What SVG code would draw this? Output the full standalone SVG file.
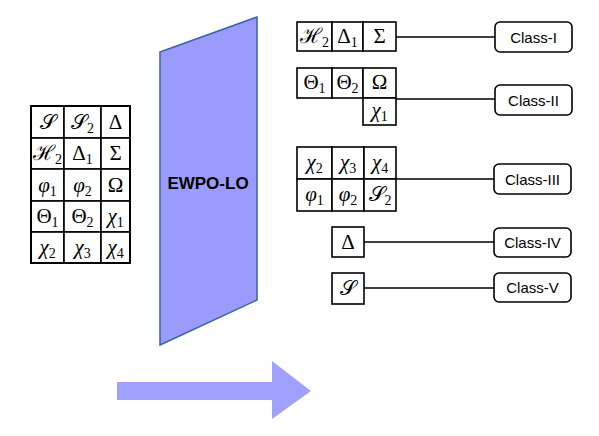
<svg xmlns="http://www.w3.org/2000/svg" width="599" height="436" viewBox="0 0 599 436">
<style>
.cell{fill:#fff;stroke:#000;stroke-width:1.6}
.outer{fill:none;stroke:#000;stroke-width:2}
.m{font-family:"Liberation Serif","DejaVu Serif",serif;font-size:21px;text-anchor:middle;fill:#000}
.i{font-style:italic}
.sub{font-size:14px}
.cls{fill:#fff;stroke:#000;stroke-width:1.6}
.lbl{font-family:"Liberation Sans",Arial,sans-serif;font-size:15px;text-anchor:middle;fill:#000}
.conn{stroke:#000;stroke-width:1.6;fill:none}
</style>
<rect width="599" height="436" fill="#fff"/>

<g id="input-table">
<rect class="cell" x="31" y="106" width="33" height="32"/>
<rect class="cell" x="64" y="106" width="37" height="32"/>
<rect class="cell" x="101" y="106" width="29" height="32"/>
<rect class="cell" x="31" y="138" width="33" height="31"/>
<rect class="cell" x="64" y="138" width="37" height="31"/>
<rect class="cell" x="101" y="138" width="29" height="31"/>
<rect class="cell" x="31" y="169" width="33" height="32"/>
<rect class="cell" x="64" y="169" width="37" height="32"/>
<rect class="cell" x="101" y="169" width="29" height="32"/>
<rect class="cell" x="31" y="201" width="33" height="31"/>
<rect class="cell" x="64" y="201" width="37" height="31"/>
<rect class="cell" x="101" y="201" width="29" height="31"/>
<rect class="cell" x="31" y="232" width="33" height="31"/>
<rect class="cell" x="64" y="232" width="37" height="31"/>
<rect class="cell" x="101" y="232" width="29" height="31"/>
<rect class="outer" x="31" y="106" width="99" height="157"/>
<text class="m" x="47.5" y="129">𝒮</text>
<text class="m" x="82.5" y="129">𝒮<tspan class="sub" dy="4">2</tspan></text>
<text class="m" x="115.5" y="129">Δ</text>
<text class="m" x="47.5" y="160">ℋ<tspan class="sub" dy="4">2</tspan></text>
<text class="m" x="82.5" y="160">Δ<tspan class="sub" dy="4">1</tspan></text>
<text class="m" x="115.5" y="160">Σ</text>
<text class="m" x="47.5" y="192"><tspan class="i">φ</tspan><tspan class="sub" dy="4">1</tspan></text>
<text class="m" x="82.5" y="192"><tspan class="i">φ</tspan><tspan class="sub" dy="4">2</tspan></text>
<text class="m" x="115.5" y="192">Ω</text>
<text class="m" x="47.5" y="223">Θ<tspan class="sub" dy="4">1</tspan></text>
<text class="m" x="82.5" y="223">Θ<tspan class="sub" dy="4">2</tspan></text>
<text class="m" x="115.5" y="223"><tspan class="i">χ</tspan><tspan class="sub" dy="4">1</tspan></text>
<text class="m" x="47.5" y="254"><tspan class="i">χ</tspan><tspan class="sub" dy="4">2</tspan></text>
<text class="m" x="82.5" y="254"><tspan class="i">χ</tspan><tspan class="sub" dy="4">3</tspan></text>
<text class="m" x="115.5" y="254"><tspan class="i">χ</tspan><tspan class="sub" dy="4">4</tspan></text>
</g>

<g id="ewpo-lo">
<polygon points="160,52 257,17 257,300 160,345" fill="#9b9bfc" stroke="#3a64a8" stroke-width="1.5"/>
<text x="208" y="189" font-family="Liberation Sans,Arial,sans-serif" font-weight="bold" font-size="17" text-anchor="middle" fill="#000">EWPO-LO</text>
</g>

<g id="flow-arrow">
<polygon points="117,382 272,382 272,361 311,391 272,419 272,400 117,400" fill="#a0a0ff"/>
</g>

<g id="connectors">
<line class="conn" x1="396" y1="37" x2="495" y2="37"/>
<line class="conn" x1="396" y1="99" x2="495" y2="99"/>
<line class="conn" x1="396" y1="179" x2="495" y2="179"/>
<line class="conn" x1="364" y1="242" x2="495" y2="242"/>
<line class="conn" x1="364" y1="288" x2="495" y2="288"/>
</g>

<g id="group-1">
<rect class="cell" x="297" y="22" width="35" height="29"/>
<rect class="cell" x="332" y="22" width="31" height="29"/>
<rect class="cell" x="363" y="22" width="33" height="29"/>
<text class="m" x="314.5" y="43">ℋ<tspan class="sub" dy="4">2</tspan></text>
<text class="m" x="347.5" y="43">Δ<tspan class="sub" dy="4">1</tspan></text>
<text class="m" x="379.5" y="43">Σ</text>
</g>

<g id="group-2">
<rect class="cell" x="297" y="68" width="35" height="30"/>
<rect class="cell" x="332" y="68" width="31" height="30"/>
<rect class="cell" x="363" y="68" width="33" height="30"/>
<rect class="cell" x="363" y="98" width="33" height="27"/>
<text class="m" x="314.5" y="89">Θ<tspan class="sub" dy="4">1</tspan></text>
<text class="m" x="347.5" y="89">Θ<tspan class="sub" dy="4">2</tspan></text>
<text class="m" x="379.5" y="89">Ω</text>
<text class="m" x="379.5" y="117"><tspan class="i">χ</tspan><tspan class="sub" dy="4">1</tspan></text>
</g>

<g id="group-3">
<rect class="cell" x="297" y="147" width="35" height="32"/>
<rect class="cell" x="332" y="147" width="32" height="32"/>
<rect class="cell" x="364" y="147" width="32" height="32"/>
<rect class="cell" x="297" y="179" width="35" height="32"/>
<rect class="cell" x="332" y="179" width="32" height="32"/>
<rect class="cell" x="364" y="179" width="32" height="32"/>
<text class="m" x="314.5" y="169"><tspan class="i">χ</tspan><tspan class="sub" dy="4">2</tspan></text>
<text class="m" x="348" y="169"><tspan class="i">χ</tspan><tspan class="sub" dy="4">3</tspan></text>
<text class="m" x="380" y="169"><tspan class="i">χ</tspan><tspan class="sub" dy="4">4</tspan></text>
<text class="m" x="314.5" y="201"><tspan class="i">φ</tspan><tspan class="sub" dy="4">1</tspan></text>
<text class="m" x="348" y="201"><tspan class="i">φ</tspan><tspan class="sub" dy="4">2</tspan></text>
<text class="m" x="380" y="201">𝒮<tspan class="sub" dy="4">2</tspan></text>
</g>

<g id="group-4">
<rect class="cell" x="332" y="227" width="32" height="30"/>
<text class="m" x="348" y="249">Δ</text>
</g>

<g id="group-5">
<rect class="cell" x="332" y="273" width="32" height="31"/>
<text class="m" x="348" y="295">𝒮</text>
</g>

<g id="class-1"><rect class="cls" x="495" y="22" width="77" height="30" rx="5"/><text class="lbl" x="533.5" y="42.5">Class-I</text></g>
<g id="class-2"><rect class="cls" x="495" y="85" width="77" height="30" rx="5"/><text class="lbl" x="533.5" y="105.5">Class-II</text></g>
<g id="class-3"><rect class="cls" x="494" y="164" width="77" height="30" rx="5"/><text class="lbl" x="532.5" y="184.5">Class-III</text></g>
<g id="class-4"><rect class="cls" x="494" y="228" width="77" height="29" rx="5"/><text class="lbl" x="532.5" y="248">Class-IV</text></g>
<g id="class-5"><rect class="cls" x="494" y="273" width="77" height="29" rx="5"/><text class="lbl" x="532.5" y="293">Class-V</text></g>
</svg>
